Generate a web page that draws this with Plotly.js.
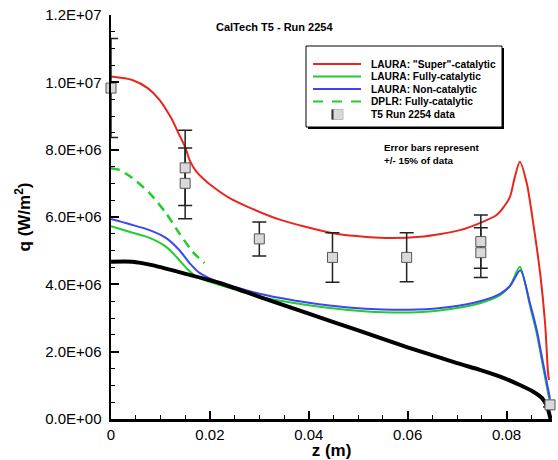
<!DOCTYPE html>
<html>
<head>
<meta charset="utf-8">
<script src="https://cdn.plot.ly/plotly-3.0.1.min.js"></script>
<style>html,body{margin:0;padding:0;background:#fff;}#chart{width:558px;height:460px;}</style>
</head>
<body>
<div id="chart"></div>
<script>
// ---- Data ----
var superZ = [0, 0.0043, 0.0075, 0.0098, 0.0122, 0.0138, 0.0151, 0.0159, 0.0172, 0.0185, 0.0199, 0.024, 0.028, 0.034, 0.0449, 0.0544, 0.0625, 0.0706, 0.0746, 0.078, 0.0793, 0.0807, 0.0817, 0.0827, 0.0841, 0.0854, 0.0868, 0.0878, 0.0884, 0.0886];
var superQ = [10.17e6, 10.07e6, 9.82e6, 9.48e6, 8.93e6, 8.44e6, 8.04e6, 7.69e6, 7.36e6, 7.16e6, 6.98e6, 6.56e6, 6.28e6, 5.93e6, 5.52e6, 5.38e6, 5.41e6, 5.61e6, 5.82e6, 6.06e6, 6.27e6, 6.60e6, 7.20e6, 7.64e6, 7.00e6, 5.82e6, 4.33e6, 2.85e6, 1.37e6, 1.16e6];

var fullZ = [0, 0.0037, 0.0078, 0.0111, 0.0132, 0.0152, 0.0172, 0.022, 0.025, 0.03, 0.034, 0.04, 0.048, 0.055, 0.062, 0.068, 0.0746, 0.0787, 0.0807, 0.0827, 0.0848, 0.0861, 0.0874, 0.0884, 0.0888];
var fullQ = [5.73e6, 5.56e6, 5.38e6, 5.12e6, 4.82e6, 4.49e6, 4.23e6, 3.98e6, 3.85e6, 3.64e6, 3.52e6, 3.38e6, 3.24e6, 3.17e6, 3.17e6, 3.25e6, 3.44e6, 3.68e6, 3.95e6, 4.52e6, 3.33e6, 2.55e6, 1.55e6, 0.77e6, 0.50e6];

var nonZ = [0, 0.0037, 0.0078, 0.0111, 0.0138, 0.0159, 0.0179, 0.022, 0.025, 0.03, 0.034, 0.04, 0.048, 0.055, 0.062, 0.068, 0.0746, 0.0787, 0.0807, 0.0828, 0.0848, 0.0861, 0.0874, 0.0884, 0.0888];
var nonQ = [5.94e6, 5.79e6, 5.61e6, 5.38e6, 5.02e6, 4.63e6, 4.34e6, 4.05e6, 3.92e6, 3.72e6, 3.60e6, 3.45e6, 3.31e6, 3.25e6, 3.25e6, 3.32e6, 3.50e6, 3.72e6, 3.95e6, 4.42e6, 3.40e6, 2.65e6, 1.65e6, 0.90e6, 0.60e6];

var dplrZ = [0, 0.0017, 0.0043, 0.0078, 0.0111, 0.0138, 0.0165, 0.0189];
var dplrQ = [7.45e6, 7.40e6, 7.16e6, 6.71e6, 6.12e6, 5.52e6, 4.97e6, 4.63e6];

var blackZ = [0, 0.0043, 0.0083, 0.0144, 0.022, 0.03, 0.04, 0.05, 0.06, 0.07, 0.0746, 0.0787, 0.0827, 0.0854, 0.0872, 0.0882, 0.0889];
var blackQ = [4.67e6, 4.67e6, 4.57e6, 4.34e6, 4.04e6, 3.63e6, 3.13e6, 2.63e6, 2.13e6, 1.66e6, 1.46e6, 1.26e6, 1.01e6, 0.81e6, 0.62e6, 0.37e6, 0.0];

var dataZ = [0, 0.015, 0.015, 0.03, 0.0448, 0.0598, 0.0748, 0.0748, 0.0888];
var dataQ = [9.83e6, 7.46e6, 7.00e6, 5.35e6, 4.80e6, 4.80e6, 5.27e6, 4.94e6, 0.42e6];
var dataErrUp = [1.47e6, 1.12e6, 1.05e6, 0.50e6, 0.73e6, 0.73e6, 0.79e6, 0.74e6, 0.06e6];
var dataErrDown = [1.47e6, 1.12e6, 1.05e6, 0.51e6, 0.74e6, 0.72e6, 0.79e6, 0.74e6, 0.06e6];

var yTickVals = [0, 2e6, 4e6, 6e6, 8e6, 10e6, 12e6];
var yTickText = ['0.0E+00', '2.0E+06', '4.0E+06', '6.0E+06', '8.0E+06', '1.0E+07', '1.2E+07'];
var xTickVals = [0, 0.02, 0.04, 0.06, 0.08];
var xTickText = ['0', '0.02', '0.04', '0.06', '0.08'];

var legendLabels = ['LAURA: "Super"-catalytic', 'LAURA: Fully-catalytic', 'LAURA: Non-catalytic', 'DPLR: Fully-catalytic', 'T5 Run 2254 data'];

// ---- Styling ----
var FONT = 'Liberation Sans, Arial, Helvetica, sans-serif';
var RED = 'rgb(232,38,30)', GREEN = 'rgb(34,204,44)', BLUE = 'rgb(60,70,245)';

var L = 111, R = 6, T = 15, B = 41, W = 558, H = 460;
var PW = W - L - R, PH = H - T - B;
function px(x) { return (x - L) / PW; }
function py(y) { return (H - B - y) / PH; }

var traces = [
  {x: superZ, y: superQ, mode: 'lines', line: {color: RED, width: 2, shape: 'spline', smoothing: 0.7}, showlegend: false},
  {x: fullZ, y: fullQ, mode: 'lines', line: {color: GREEN, width: 2, shape: 'spline', smoothing: 0.7}, showlegend: false},
  {x: nonZ, y: nonQ, mode: 'lines', line: {color: BLUE, width: 2, shape: 'spline', smoothing: 0.7}, showlegend: false},
  {x: dplrZ, y: dplrQ, mode: 'lines', line: {color: GREEN, width: 2.5, dash: '9px,6px', shape: 'spline', smoothing: 0.7}, showlegend: false},
  {x: blackZ, y: blackQ, mode: 'lines', line: {color: 'black', width: 4, shape: 'spline', smoothing: 0.7}, showlegend: false},
  {x: dataZ, y: dataQ, mode: 'markers', cliponaxis: false, showlegend: false,
   marker: {symbol: 'square', size: 10, color: '#d9d9d9', line: {color: '#555', width: 1}},
   error_y: {type: 'data', symmetric: false, array: dataErrUp, arrayminus: dataErrDown, color: '#222', thickness: 1.5, width: 7}}
];

var shapes = [];
var annotations = [];
// legend box with shadow
shapes.push({type: 'rect', xref: 'paper', yref: 'paper', x0: px(308), x1: px(504), y0: py(129), y1: py(48), fillcolor: 'black', line: {width: 0}, layer: 'above'});
shapes.push({type: 'rect', xref: 'paper', yref: 'paper', x0: px(306), x1: px(502), y0: py(127), y1: py(46), fillcolor: 'white', line: {color: 'black', width: 1}, layer: 'above'});
var rowY = [64, 76.5, 89, 101.5, 114.5];
var symColors = [RED, GREEN, BLUE, GREEN];
for (var i = 0; i < 4; i++) {
  shapes.push({type: 'line', xref: 'paper', yref: 'paper', x0: px(313), x1: px(361), y0: py(rowY[i]), y1: py(rowY[i]),
    line: {color: symColors[i], width: 2, dash: i === 3 ? '10px,9px' : 'solid'}, layer: 'above'});
}
shapes.push({type: 'rect', xref: 'paper', yref: 'paper', x0: px(332), x1: px(343), y0: py(rowY[4] + 5), y1: py(rowY[4] - 5), fillcolor: '#d9d9d9', line: {color: '#bbb', width: 1}, layer: 'above'});
shapes.push({type: 'line', xref: 'paper', yref: 'paper', x0: px(332.5), x1: px(332.5), y0: py(rowY[4] + 5), y1: py(rowY[4] - 5), line: {color: '#333', width: 2}, layer: 'above'});
for (var j = 0; j < legendLabels.length; j++) {
  annotations.push({xref: 'paper', yref: 'paper', x: px(369), y: py(rowY[j]), xanchor: 'left', yanchor: 'middle',
    text: '<b>' + legendLabels[j] + '</b>', showarrow: false, font: {family: FONT, size: 10.2, color: 'black'}});
}
// title
annotations.push({xref: 'paper', yref: 'paper', x: px(274), y: py(27), xanchor: 'center', yanchor: 'middle',
  text: '<b>CalTech T5 - Run 2254</b>', showarrow: false, font: {family: FONT, size: 11, color: 'black'}});
// error bar note
annotations.push({xref: 'paper', yref: 'paper', x: px(382), y: py(153.5), xanchor: 'left', yanchor: 'middle', align: 'left',
  text: '<b>Error bars represent<br>+/- 15% of data</b>', showarrow: false, font: {family: FONT, size: 9.8, color: 'black'}});

var layout = {
  width: W, height: H,
  margin: {l: L, r: R, t: T, b: B, pad: 0},
  paper_bgcolor: 'white', plot_bgcolor: 'white',
  font: {family: FONT, color: 'black'},
  showlegend: false,
  xaxis: {
    range: [0, 0.0892], showgrid: false, zeroline: false,
    showline: true, linecolor: 'black', linewidth: 2.5,
    ticks: 'inside', ticklen: 8, tickwidth: 2, tickcolor: 'black',
    tickvals: xTickVals, ticktext: xTickText,
    tickfont: {family: FONT, size: 15, color: 'black'},
    minor: {dtick: 0.005, ticks: 'inside', ticklen: 4, tickwidth: 1, tickcolor: 'black', showgrid: false},
    title: {text: '<b>z (m)</b>', font: {family: FONT, size: 17, color: 'black'}, standoff: 0}
  },
  yaxis: {
    range: [0, 12e6], showgrid: false, zeroline: false,
    showline: true, linecolor: 'black', linewidth: 2.5,
    ticks: 'inside', ticklen: 8, tickwidth: 2, tickcolor: 'black',
    tickvals: yTickVals, ticktext: yTickText,
    tickfont: {family: FONT, size: 15, color: 'black'},
    ticklabelstandoff: 4,
    minor: {dtick: 5e5, ticks: 'inside', ticklen: 4, tickwidth: 1, tickcolor: 'black', showgrid: false},
    title: {text: '<b>q (W/m<sup>2</sup>)</b>', font: {family: FONT, size: 17, color: 'black'}, standoff: 10}
  },
  shapes: shapes,
  annotations: annotations
};

Plotly.newPlot('chart', traces, layout, {displayModeBar: false, staticPlot: true});
</script>
</body>
</html>
